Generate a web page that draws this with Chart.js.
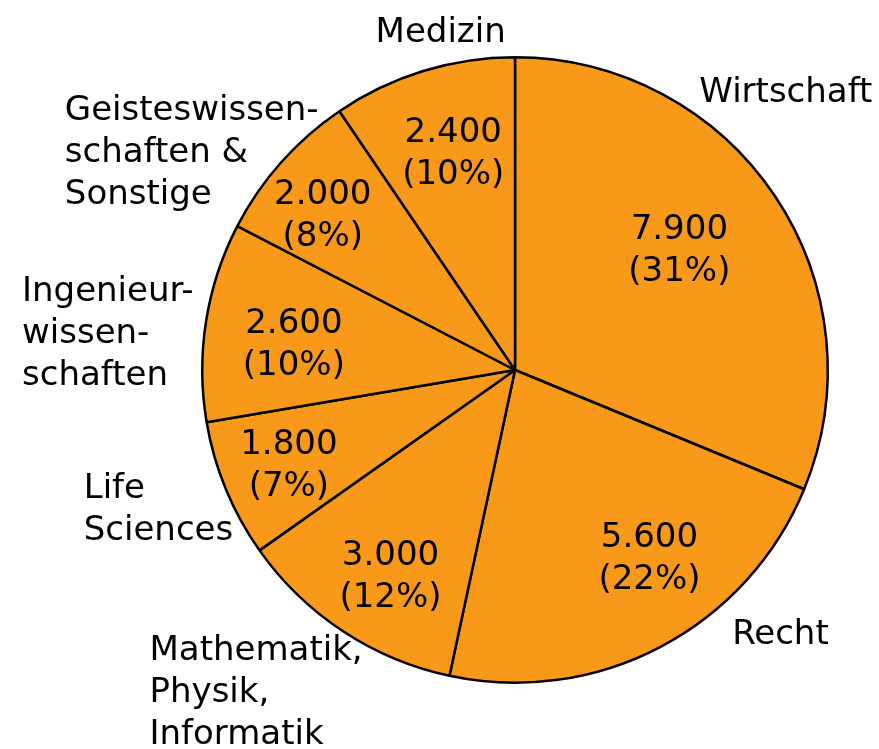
<!DOCTYPE html>
<html>
<head>
<meta charset="utf-8">
<script src="https://cdn.jsdelivr.net/npm/chart.js@4"></script>
<style>
  html, body { margin: 0; padding: 0; background: #fff; }
  #wrap { width: 879px; height: 749px; }
</style>
</head>
<body>
<div id="wrap"><canvas id="pie" width="879" height="749"></canvas></div>
<script>
// data, clockwise from 12 o'clock
const fields = [
  ['Wirtschaft'],
  ['Recht'],
  ['Mathematik,', 'Physik,', 'Informatik'],
  ['Life', 'Sciences'],
  ['Ingenieur-', 'wissen-', 'schaften'],
  ['Geisteswissen-', 'schaften &', 'Sonstige'],
  ['Medizin']
];
const counts = [7900, 5600, 3000, 1800, 2600, 2000, 2400];
const countLabels = ['7.900', '5.600', '3.000', '1.800', '2.600', '2.000', '2.400'];
const percentLabels = ['31%', '22%', '12%', '7%', '10%', '8%', '10%'];

// label placement (offsets from pie centre, for a radius of 314px)
const innerPos = [[165, -119], [135, 190], [-125, 208], [-227, 97], [-222, -25], [-193, -154], [-62, -217]];
const outerPos = [[185, -278], [218, 266], [-367, 282], [-433, 120], [-495, -78], [-452, -260], [-140, -338]];

const FONT = '34px "DejaVu Sans", Verdana, sans-serif';
const LINE = 42;

const labelPlugin = {
  id: 'sliceLabels',
  afterDatasetsDraw(chart) {
    const ctx = chart.ctx;
    const arcs = chart.getDatasetMeta(0).data;
    ctx.save();
    ctx.font = FONT;
    ctx.fillStyle = '#000';
    ctx.textBaseline = 'middle';
    arcs.forEach((arc, i) => {
      const k = arc.outerRadius / 314;
      // value + percent inside
      ctx.textAlign = 'center';
      const ix = arc.x + innerPos[i][0] * k;
      const iy = arc.y + innerPos[i][1] * k;
      ctx.fillText(countLabels[i], ix, iy - LINE / 2);
      ctx.fillText('(' + percentLabels[i] + ')', ix, iy + LINE / 2);
      // category name outside
      ctx.textAlign = 'left';
      const ox = arc.x + outerPos[i][0] * k;
      const oy = arc.y + outerPos[i][1] * k;
      fields[i].forEach((line, j) => ctx.fillText(line, ox, oy + j * LINE));
    });
    ctx.restore();
  }
};

const pieCtx = document.getElementById('pie').getContext('2d');
new Chart(pieCtx, {
  type: 'pie',
  data: {
    labels: fields.map(f => f.join(' ')),
    datasets: [{
      data: counts,
      backgroundColor: '#F8991A',
      borderColor: '#000',
      borderWidth: 2.5
    }]
  },
  options: {
    responsive: false,
    animation: false,
    layout: {
      padding: { top: 56, bottom: 65, left: 201, right: 50 }
    },
    plugins: {
      legend: { display: false },
      tooltip: { enabled: false }
    }
  },
  plugins: [labelPlugin]
});
</script>
</body>
</html>
